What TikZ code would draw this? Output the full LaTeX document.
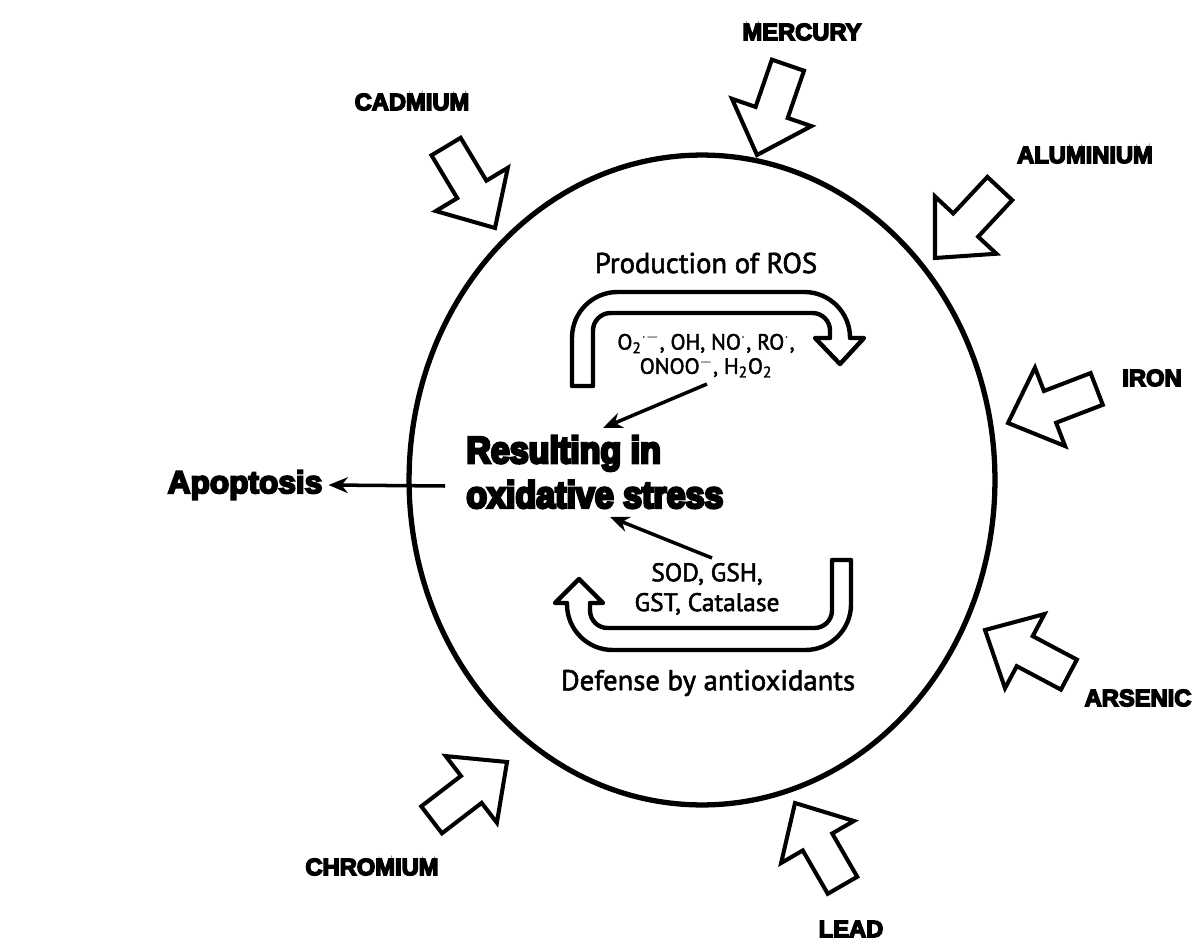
\documentclass[tikz,border=0pt]{standalone}
\usepackage{fontspec}
\setmainfont{PT Sans}
\newfontfamily\medium{PT Sans}[FakeBold=2]
\newfontfamily\heavy{Liberation Sans}[UprightFont={* Bold}, FakeBold=6]
\newfontfamily\heavycond{Liberation Sans}[UprightFont={* Bold}, FakeBold=7, FakeStretch=0.9]
\usetikzlibrary{shapes.geometric, arrows.meta}
\tikzset{
  metal/.style={font=\heavy\fontsize{13.5}{16}\selectfont, inner sep=0pt},
  big/.style={font=\heavy\fontsize{18}{22}\selectfont},
  stress/.style={font=\heavycond\fontsize{21.5}{25.5}\selectfont, align=left, inner sep=0pt},
  caption/.style={font=\medium\fontsize{16.3}{19}\selectfont, inner sep=0pt},
  species/.style={font=\medium\fontsize{12.5}{13.8}\selectfont, align=center, inner sep=0pt},
  enzymes/.style={font=\medium\fontsize{14.5}{17}\selectfont, align=center, inner sep=0pt},
  band/.style={draw, line width=2.5pt, fill=white, line join=round},
  blk/.style={draw, line width=2.3pt, fill=white, line join=miter},
  thinarrow/.style={-{Stealth[length=11pt,width=9pt]}, line width=2pt},
  blockarrow/.pic={\path[blk] (0,0) -- (-45,42) -- (-45,17) -- (-95,17) -- (-95,-17) -- (-45,-17) -- (-45,-42) -- cycle;}
}
\begin{document}
\begin{tikzpicture}[x=0.02cm, y=-0.02cm]
\fill[white] (0,0) rectangle (1192,942);
\useasboundingbox (0,0) rectangle (1192,942);

% cell
\node[draw, ellipse, line width=3pt, inner sep=0pt, minimum width=11.72cm, minimum height=13cm] (cell) at (702,480) {};

% metal block arrows
\pic[rotate=251] at (757,155) {blockarrow};
\pic[rotate=-59] at (495,228) {blockarrow};
\pic[rotate=227] at (935,258) {blockarrow};
\pic[rotate=201] at (1008,423) {blockarrow};
\pic[rotate=152] at (985,630) {blockarrow};
\pic[rotate=120] at (795,803) {blockarrow};
\pic[rotate=37.5] at (507,762) {blockarrow};

% metal labels
\node[metal] (mercury) at (802,32) {MERCURY};
\node[metal] (cadmium) at (412,102) {CADMIUM};
\node[metal] (aluminium) at (1085,155) {ALUMINIUM};
\node[metal] (iron) at (1152,378) {IRON};
\node[metal] (arsenic) at (1138,698) {ARSENIC};
\node[metal] (chromium) at (372,867) {CHROMIUM};
\node[metal] (lead) at (851,929) {LEAD};

% ROS production band
\path[band] (572,386) [rounded corners=26] -- (572,292) -- (850,292) [sharp corners] -- (850,338) -- (864,338) -- (840,364) -- (815,338) -- (830,338) [rounded corners=10] -- (830,313) -- (593,313) [sharp corners] -- (593,386) -- cycle;

% antioxidant defense band
\path[band] (851,560) [rounded corners=26] -- (851,650) -- (567,650) [sharp corners] -- (567,603) -- (555,603) -- (579,579) -- (603,603) -- (590,603) [rounded corners=10] -- (590,628) -- (832,628) [sharp corners] -- (832,560) -- cycle;

% texts inside
\node[caption] (ros) at (706,263) {Production of ROS};
\node[species] (species) at (706,355) {O\textsubscript{2}$^{\cdot-}$, OH, NO$^{\cdot}$, RO$^{\cdot}$,\\ONOO$^{-}$, H\textsubscript{2}O\textsubscript{2}};
\node[enzymes] (enz) at (707,589) {SOD, GSH,\\GST, Catalase};
\node[caption] (defense) at (708,683) {Defense by antioxidants};
\node[stress, anchor=west] (result) at (466,472) {Resulting in\\oxidative stress};
\node[big] (apop) at (245,485) {Apoptosis};

% connectors
\coordinate (rosfrom) at (707,384);
\coordinate (rosto) at (603,428);
\coordinate (enzfrom) at (712,558);
\coordinate (enzto) at (610,517);
\coordinate (apfrom) at (445,486);
\draw[thinarrow] (rosfrom) -- (rosto);
\draw[thinarrow] (enzfrom) -- (enzto);
\draw[thinarrow] (apfrom) -- (apop.east);
\end{tikzpicture}
\end{document}
